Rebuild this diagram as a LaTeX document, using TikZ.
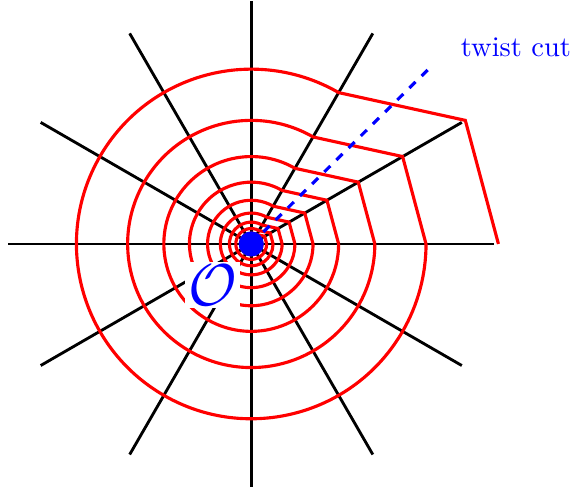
\documentclass[tikz,border=0pt]{standalone}
\usepackage{amsmath,amssymb}
\usetikzlibrary{calc}

\begin{document}
\begin{tikzpicture}[ray/.style={black,line width=1pt},ring/.style={red,line width=1.1pt},cut/.style={blue,line width=1.1pt,dashed}]
  \useasboundingbox (-3.1,-3.01) rectangle (3.97,3.01);
  \coordinate (centre) at (0,0);
  \foreach \a in {0,30,...,330}
    \draw[ray] (centre) -- (\a:3);
  % spiral: each turn shrinks by sqrt(2) across the cut
  \foreach \k in {0,...,11}{
    \pgfmathsetmacro{\ra}{3.05/(sqrt(2)^\k)}
    \pgfmathsetmacro{\rb}{\ra/sqrt(2)}
    \draw[ring] (0:\ra) -- (30:\ra) -- (60:\rb) arc[start angle=60,end angle=360,radius=\rb];
  }
  \coordinate (cutend) at (2.18,2.15);
  \draw[cut] (centre) -- (cutend);
  \node[circle,fill=blue,inner sep=0pt,minimum size=0.31cm] (core) at (centre) {};
  \node[anchor=base west,inner sep=0pt,text=blue] (cutlabel) at (2.58,2.31) {twist cut};
  \node[fill=white,inner sep=1pt,text=blue,font=\huge] (origin) at (-0.48,-0.505) {$\mathcal{O}$};
\end{tikzpicture}
\end{document}
